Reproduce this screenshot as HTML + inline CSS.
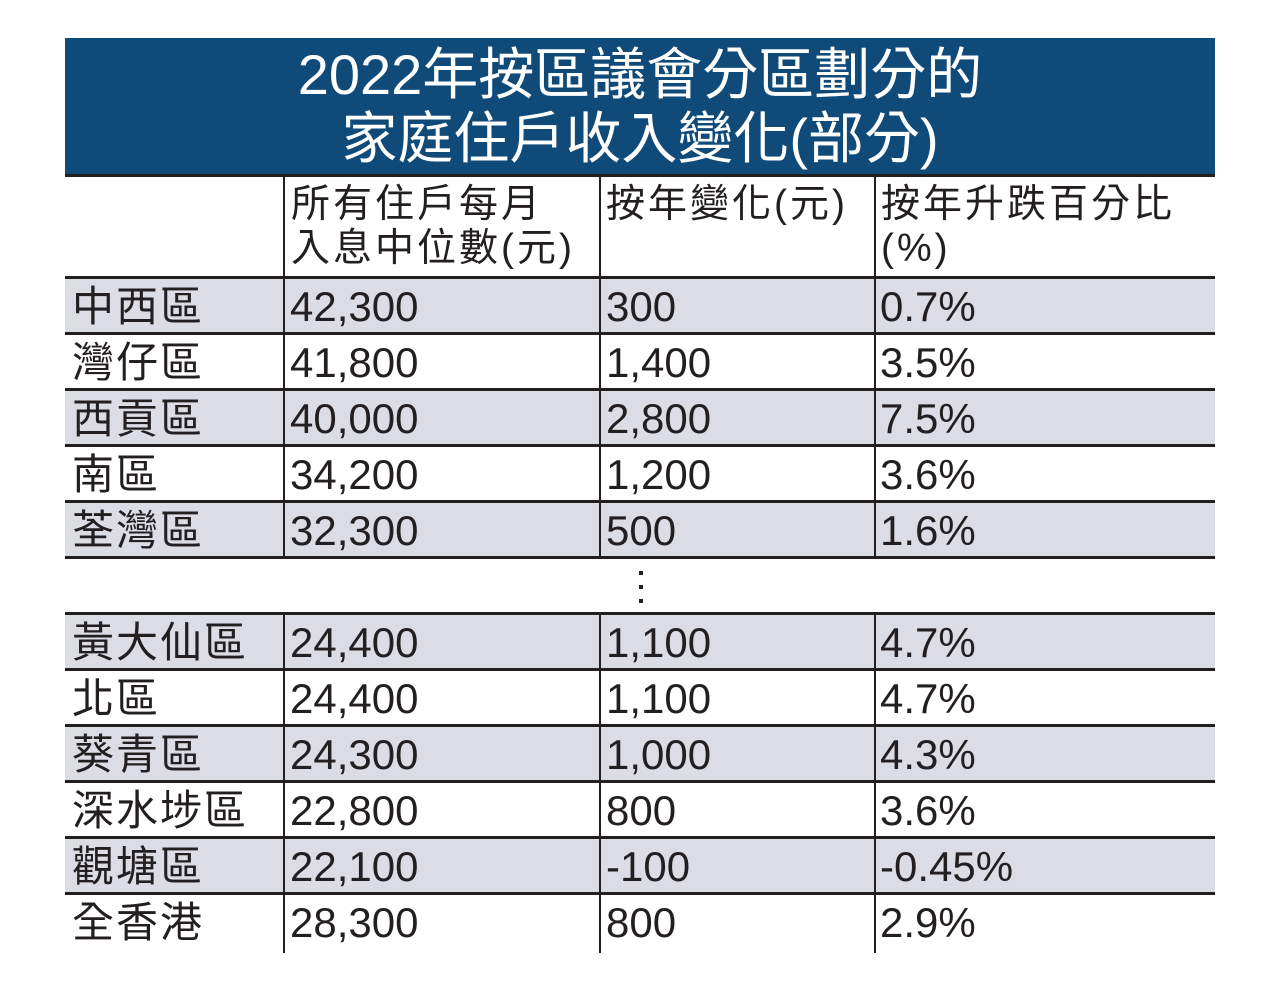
<!DOCTYPE html>
<html><head><meta charset="utf-8"><style>
body{margin:0;width:1280px;height:990px;background:#fff;position:relative;overflow:hidden;font-family:"Liberation Sans","Noto Sans CJK TC",sans-serif;color:#231f20}
.title{position:absolute;left:65px;top:38px;width:1150px;height:137px;background:#0f4a78;color:#fff;text-align:center;font-size:56px;line-height:64px;padding-top:5px;box-sizing:border-box}
.hl{position:absolute;left:65px;width:1150px;height:3px;background:#231f20}
.vl{position:absolute;width:2px;background:#231f20}
.row{position:absolute;left:65px;width:1150px;height:53px}
.g{background:#dcdce4}
.t{position:absolute;font-size:42px;line-height:56px;white-space:nowrap}
.c{letter-spacing:2px}
.h{position:absolute;font-size:39px;line-height:44px;letter-spacing:3px;white-space:nowrap}
.dot{position:absolute;left:639px;width:4px;height:4px;background:#231f20}
</style></head><body>
<div class="title">2022年按區議會分區劃分的<br>家庭住戶收入變化(部分)</div>
<div class="h" style="left:291px;top:183px">所有住戶每月<br>入息中位數(元)</div>
<div class="h" style="left:606px;top:183px">按年變化(元)</div>
<div class="h" style="left:881px;top:183px">按年升跌百分比<br>(%)</div>

<div class="row g" style="top:279px"></div>
<div class="row g" style="top:391px"></div>
<div class="row g" style="top:503px"></div>
<div class="row g" style="top:615px"></div>
<div class="row g" style="top:727px"></div>
<div class="row g" style="top:839px"></div>

<div class="hl" style="top:174px"></div>
<div class="hl" style="top:276px"></div>
<div class="hl" style="top:332px"></div>
<div class="hl" style="top:388px"></div>
<div class="hl" style="top:444px"></div>
<div class="hl" style="top:500px"></div>
<div class="hl" style="top:556px"></div>
<div class="hl" style="top:612px"></div>
<div class="hl" style="top:668px"></div>
<div class="hl" style="top:724px"></div>
<div class="hl" style="top:780px"></div>
<div class="hl" style="top:836px"></div>
<div class="hl" style="top:892px"></div>

<div class="vl" style="left:283px;top:175px;height:384px"></div>
<div class="vl" style="left:599px;top:175px;height:384px"></div>
<div class="vl" style="left:874px;top:175px;height:384px"></div>
<div class="vl" style="left:283px;top:613px;height:340px"></div>
<div class="vl" style="left:599px;top:613px;height:340px"></div>
<div class="vl" style="left:874px;top:613px;height:340px"></div>

<div class="dot" style="top:571px"></div>
<div class="dot" style="top:585px"></div>
<div class="dot" style="top:599px"></div>

<div style="position:absolute;top:279px;left:0">
<div class="t c" style="left:72px;top:0">中西區</div><div class="t" style="left:290px;top:0">42,300</div><div class="t" style="left:606px;top:0">300</div><div class="t" style="left:880px;top:0">0.7%</div>
<div class="t c" style="left:72px;top:56px">灣仔區</div><div class="t" style="left:290px;top:56px">41,800</div><div class="t" style="left:606px;top:56px">1,400</div><div class="t" style="left:880px;top:56px">3.5%</div>
<div class="t c" style="left:72px;top:112px">西貢區</div><div class="t" style="left:290px;top:112px">40,000</div><div class="t" style="left:606px;top:112px">2,800</div><div class="t" style="left:880px;top:112px">7.5%</div>
<div class="t c" style="left:72px;top:168px">南區</div><div class="t" style="left:290px;top:168px">34,200</div><div class="t" style="left:606px;top:168px">1,200</div><div class="t" style="left:880px;top:168px">3.6%</div>
<div class="t c" style="left:72px;top:224px">荃灣區</div><div class="t" style="left:290px;top:224px">32,300</div><div class="t" style="left:606px;top:224px">500</div><div class="t" style="left:880px;top:224px">1.6%</div>
<div class="t c" style="left:72px;top:336px">黃大仙區</div><div class="t" style="left:290px;top:336px">24,400</div><div class="t" style="left:606px;top:336px">1,100</div><div class="t" style="left:880px;top:336px">4.7%</div>
<div class="t c" style="left:72px;top:392px">北區</div><div class="t" style="left:290px;top:392px">24,400</div><div class="t" style="left:606px;top:392px">1,100</div><div class="t" style="left:880px;top:392px">4.7%</div>
<div class="t c" style="left:72px;top:448px">葵青區</div><div class="t" style="left:290px;top:448px">24,300</div><div class="t" style="left:606px;top:448px">1,000</div><div class="t" style="left:880px;top:448px">4.3%</div>
<div class="t c" style="left:72px;top:504px">深水埗區</div><div class="t" style="left:290px;top:504px">22,800</div><div class="t" style="left:606px;top:504px">800</div><div class="t" style="left:880px;top:504px">3.6%</div>
<div class="t c" style="left:72px;top:560px">觀塘區</div><div class="t" style="left:290px;top:560px">22,100</div><div class="t" style="left:606px;top:560px">-100</div><div class="t" style="left:880px;top:560px">-0.45%</div>
<div class="t c" style="left:72px;top:616px">全香港</div><div class="t" style="left:290px;top:616px">28,300</div><div class="t" style="left:606px;top:616px">800</div><div class="t" style="left:880px;top:616px">2.9%</div>
</div>
</body></html>
